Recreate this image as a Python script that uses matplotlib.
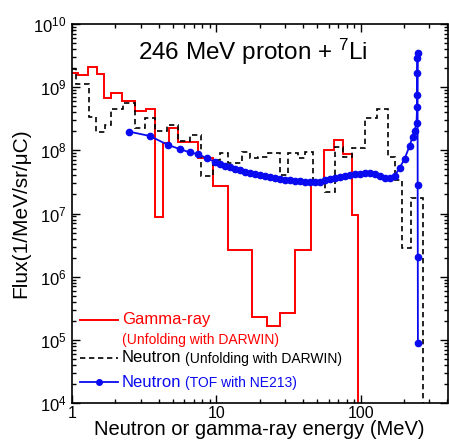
import numpy as np
import matplotlib
matplotlib.use("Agg")
import matplotlib.pyplot as plt
from matplotlib.lines import Line2D
from matplotlib.ticker import LogLocator, FixedLocator, FixedFormatter, NullFormatter

plt.rcParams['font.family'] = ['Liberation Sans', 'DejaVu Sans']
plt.rcParams['mathtext.fontset'] = 'custom'
plt.rcParams['mathtext.rm'] = 'Liberation Sans'
plt.rcParams['mathtext.it'] = 'Liberation Sans:italic'
plt.rcParams['mathtext.default'] = 'regular'

# gamma-ray spectrum, unfolding with DARWIN (bin edges in MeV, flux per bin)
gamma_edges = [1.0, 1.10, 1.29, 1.49, 1.665, 1.86, 2.22, 2.73, 3.25, 3.75, 4.26,
               4.69, 5.42, 7.45, 9.46, 12.0, 17.6, 22.4, 27.5, 34.9, 45.1, 55.5,
               65.0, 75.0, 86.6, 95.3, 400.0]
gamma_flux = [1.68e9, 1.56e9, 2.11e9, 1.62e9, 6.75e8, 8.1e8, 6.05e8, 4.2e8, 4.52e8,
              8.83e6, 1.31e8, 2.26e8, 1.36e8, 7.59e7, 2.74e7, 2.65e6, 2.31e5, 1.67e5,
              2.67e5, 2.65e6, 3.05e7, 1.01e8, 1.46e8, 8.77e7, 9.5e6, 0.0]

# neutron spectrum, unfolding with DARWIN
neutron_edges = [1.0, 1.066, 1.305, 1.473, 1.684, 1.871, 2.254, 2.717, 3.215, 3.75,
                 4.54, 5.42, 6.56, 7.81, 9.46, 10.6, 12.0, 15.0, 17.1, 19.4, 22.7,
                 27.5, 31.2, 36.6, 41.0, 46.5, 56.3, 66.1, 75.0, 86.6, 108, 129,
                 154, 172, 192, 225, 269, 400]
neutron_flux = [1.94e9, 1.12e9, 3.37e8, 1.95e8, 2.52e8, 4.52e8, 5.62e8, 2.26e8, 3.26e8,
                2.03e8, 2.52e8, 1.41e8, 1.75e8, 3.94e7, 7.05e7, 9.1e7, 6.32e7, 9.44e7,
                7.59e7, 7.87e7, 9.1e7, 4.08e7, 9.1e7, 7.59e7, 9.44e7, 3.4e7, 2.2e7,
                1.13e8, 7.87e7, 1.09e8, 3.26e8, 4.52e8, 7.87e7, 3.4e7, 2.86e6, 1.77e7,
                0.0]

# neutron spectrum, TOF with NE213
tof_energy = [2.48, 3.45, 4.62, 5.56, 6.53, 7.45, 8.63,
              9.76, 10.57, 11.45, 12.40, 13.43, 14.54, 15.75, 17.05, 18.47, 20.00,
              21.66, 23.46, 25.41, 27.51, 29.79, 32.27, 34.94, 37.84, 40.98, 44.38,
              48.06, 52.04, 56.36, 61.03, 66.10, 71.58, 77.51, 83.94, 90.90, 98.4,
              106.6, 115.4, 125.0, 135.4, 146.6, 158.7, 171.9, 186.2, 201.6, 218.3,
              229.0, 236.5, 244.1, 246.0, 246.5, 247.0, 247.5, 248.0, 248.5, 249.0,
              249.5]
tof_flux = [1.98e8, 1.69e8, 1.22e8, 1.05e8, 9.3e7, 8.7e7, 7.5e7,
            6.56e7, 6.09e7, 5.67e7, 5.36e7, 5.08e7, 4.81e7, 4.55e7, 4.39e7, 4.16e7,
            4.01e7, 3.86e7, 3.73e7, 3.62e7, 3.53e7, 3.42e7, 3.34e7, 3.28e7, 3.22e7,
            3.18e7, 3.16e7, 3.16e7, 3.18e7, 3.34e7, 3.53e7, 3.66e7, 3.79e7, 3.93e7,
            4.08e7, 4.19e7, 4.28e7, 4.31e7, 4.31e7, 4.16e7, 3.86e7, 3.66e7, 3.59e7,
            3.93e7, 5.27e7, 7.31e7, 1.17e8, 1.63e8, 2.03e8, 2.71e8, 4.86e8, 7.53e8,
            1.68e9, 2.9e9, 3.47e9, 2.84e7, 2.06e6, 8.97e4]

fig = plt.figure(figsize=(4.49, 4.46), dpi=100)
ax = fig.add_axes([72 / 449, 1 - 403 / 446, 375.5 / 449, 379 / 446])

ax.stairs(gamma_flux, gamma_edges, color="red", lw=1.4, baseline=None)
ax.stairs(neutron_flux, neutron_edges, color="black", lw=1.2,
          linestyle=(0, (3.2, 2.2)), baseline=None)
ax.plot(tof_energy, tof_flux, "-o", color="#0a0af0", ms=4.5, lw=1.3)

ax.set_xscale("log")
ax.set_yscale("log")
ax.set_xlim(1, 400)
ax.set_ylim(1e4, 1e10)

ax.xaxis.set_major_locator(FixedLocator([1, 10, 100]))
ax.xaxis.set_major_formatter(FixedFormatter(["1", "10", "100"]))
ax.xaxis.set_minor_locator(LogLocator(base=10, subs=np.arange(2, 10), numticks=20))
ax.xaxis.set_minor_formatter(NullFormatter())
ax.yaxis.set_major_locator(LogLocator(base=10, numticks=20))
ax.yaxis.set_minor_locator(LogLocator(base=10, subs=np.arange(2, 10), numticks=20))
ax.yaxis.set_minor_formatter(NullFormatter())

ax.tick_params(which="both", direction="in", top=True, right=True, width=1)
ax.tick_params(which="major", length=6, labelsize=12, pad=4)
ax.tick_params(axis="x", which="major", labelsize=11.5, pad=2.5)
ax.tick_params(which="minor", length=3)
for s in ax.spines.values():
    s.set_linewidth(1.2)

ax.set_xlabel("Neutron or gamma-ray energy (MeV)", fontsize=14.5)
ax.xaxis.set_label_coords(0.5, -0.045)
ax.set_ylabel("Flux(1/MeV/sr/\u03bcC)", fontsize=15, labelpad=2)

ax.text(0.482, 0.926, "246 MeV proton + $^{7}$Li", transform=ax.transAxes,
        fontsize=17.5, ha="center", va="center")

# legend drawn by hand (mixed font sizes)
tr = ax.transAxes
ax.add_line(Line2D([0.021, 0.122], [0.219, 0.219], transform=tr, color="red", lw=1.4))
ax.text(0.133, 0.219, "Gamma-ray", transform=tr, color="red", fontsize=12, va="center")
ax.text(0.133, 0.166, "(Unfolding with DARWIN)", transform=tr, color="red",
        fontsize=10, va="center")
ax.add_line(Line2D([0.021, 0.122], [0.119, 0.119], transform=tr, color="black",
                   lw=1.2, linestyle=(0, (3.2, 2.2))))
ax.text(0.133, 0.119, "Neutron", transform=tr, color="black", fontsize=12, va="center")
ax.text(0.301, 0.117, "(Unfolding with DARWIN)", transform=tr, color="black",
        fontsize=10, va="center")
ax.add_line(Line2D([0.021, 0.122], [0.055, 0.055], transform=tr, color="#0a0af0", lw=1.3))
ax.add_line(Line2D([0.0715], [0.055], transform=tr, color="#0a0af0", marker="o", ms=4))
ax.text(0.133, 0.055, "Neutron", transform=tr, color="#0a0af0", fontsize=12, va="center")
ax.text(0.301, 0.053, "(TOF with NE213)", transform=tr, color="#0a0af0",
        fontsize=10, va="center")

fig.savefig("out.png", dpi=100)
